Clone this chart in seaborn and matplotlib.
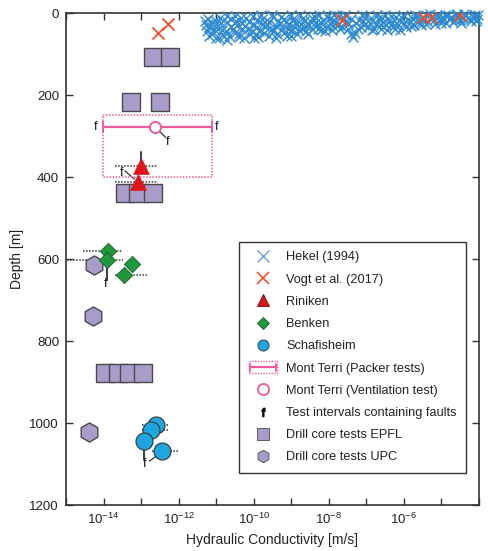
import numpy as np
import pandas as pd
import matplotlib
matplotlib.use("Agg")
import matplotlib.pyplot as plt
import seaborn as sns
from matplotlib.lines import Line2D
from matplotlib.patches import Rectangle
from matplotlib.legend_handler import HandlerBase
from matplotlib.ticker import FixedLocator, FuncFormatter, NullLocator

# ---------------- data (log10 K in m/s, depth in m) ----------------
hekel_logk = [-11.3, -11.2, -11.1, -11.0, -11.0, -10.9, -10.85, -10.8, -10.7, -10.7,
              -10.6, -10.5, -10.5, -10.4, -10.3, -10.3, -10.2, -10.1, -10.0, -10.0,
              -9.9, -9.85, -9.8, -9.7, -9.6, -9.6, -9.5, -9.45, -9.4, -9.3,
              -9.2, -9.2, -9.1, -9.0, -9.0, -8.9, -8.8, -8.7, -8.6, -8.55,
              -8.5, -8.4, -8.3, -8.2, -8.1, -8.0, -7.9, -7.85, -7.8, -7.7,
              -7.6, -7.5, -7.4, -7.35, -7.3, -7.2, -7.15, -7.0, -6.9, -6.8,
              -6.7, -6.6, -6.5, -6.45, -6.4, -6.3, -6.2, -6.1, -6.0, -5.9,
              -5.8, -5.7, -5.6, -5.5, -5.4, -5.3, -5.2, -5.1, -5.0, -4.9,
              -4.8, -4.7, -4.6, -4.5, -4.4, -4.3, -4.2, -4.1, -4.05,
              -11.25, -11.15, -10.95, -10.6, -10.45, -10.15, -9.95, -9.75, -9.35, -9.05,
              -8.75, -8.35, -7.95, -7.55, -7.05, -6.55, -6.05, -5.55, -5.05, -4.55,
              -11.28, -11.22, -11.18, -11.05, -11.02, -10.92, -10.88, -10.75, -10.72, -10.65,
              -10.55, -10.48, -10.38, -10.35, -10.25, -10.22, -10.12, -10.05, -10.02,
              -9.92, -9.88, -9.78, -9.72, -9.65, -9.55, -9.52, -9.42, -9.38, -9.28,
              -9.25, -9.15, -9.12, -9.02, -8.95, -8.92, -8.85, -8.78, -8.72, -8.65,
              -8.62, -8.52, -8.45, -8.42, -8.32, -8.25, -8.22, -8.15, -8.05, -8.02,
              -7.92, -7.88, -7.75, -7.72, -7.65, -7.58, -7.48, -7.42, -7.28, -7.22,
              -7.12, -7.08, -6.95, -6.88, -6.85, -6.75, -6.72, -6.62, -6.58, -6.48,
              -6.35, -6.32, -6.25, -6.15, -6.12, -6.02, -5.95, -5.85, -5.78, -5.72,
              -5.65, -5.58, -5.48, -5.42, -5.35, -5.25, -5.18, -5.12, -5.02, -4.95,
              -4.88, -4.82, -4.75, -4.65, -4.58, -4.48, -4.42, -4.35, -4.25, -4.15,
              -4.08, -4.02]
hekel_depth = [20, 35, 50, 28, 60, 12, 42, 55, 22, 65,
               35, 8, 48, 58, 25, 40, 12, 52, 30, 62,
               18, 45, 5, 35, 55, 22, 10, 42, 60, 28,
               15, 48, 38, 5, 55, 25, 42, 12, 32, 50,
               20, 8, 38, 25, 45, 15, 32, 5, 22, 40,
               12, 28, 50, 58, 48, 18, 35, 8, 25, 40,
               15, 30, 5, 42, 20, 35, 10, 42, 25, 15,
               32, 5, 20, 12, 28, 3, 18, 10, 25, 5,
               15, 22, 8, 18, 3, 12, 20, 6, 14,
               45, 25, 38, 15, 30, 38, 50, 28, 20, 30,
               28, 22, 28, 20, 30, 22, 12, 30, 15, 10,
               30, 15, 55, 40, 18, 62, 25, 45, 8, 55,
               40, 20, 50, 12, 60, 32, 22, 45, 8,
               35, 58, 15, 48, 30, 42, 5, 32, 50, 10,
               40, 22, 55, 42, 15, 35, 52, 5, 40, 20,
               45, 30, 40, 14, 30, 5, 42, 18, 35, 8,
               42, 18, 30, 8, 35, 5, 38, 15, 25, 38,
               5, 20, 35, 12, 42, 28, 5, 40, 12, 30,
               8, 25, 40, 30, 18, 5, 35, 22, 12, 30,
               8, 25, 18, 5, 22, 12, 28, 5, 18, 12,
               25, 5, 12, 18, 3, 25, 12, 6, 15, 10,
               20, 5]

vogt_logk = [-12.55, -12.29, -7.66, -5.5, -5.27, -4.5]
vogt_depth = [49, 27, 17, 10, 10, 5]

riniken_logk = [-13.0, -13.08]
riniken_depth = [373, 412]
riniken_kmin = [-13.7, -13.7]
riniken_kmax = [-12.55, -12.55]

benken_logk = [-13.88, -13.91, -13.24, -13.46]
benken_depth = [580, 603, 612, 639]
benken_kmin = [-14.55, -14.97, np.nan, -13.70]
benken_kmax = [-13.51, -13.48, np.nan, -12.85]

schaf_logk = [-12.61, -12.74, -12.93, -12.45]
schaf_depth = [1005, 1017, 1044, 1068]
schaf_kmin = [-12.98, -12.98, np.nan, -12.71]
schaf_kmax = [-12.29, -12.29, np.nan, -12.02]

packer_kmin, packer_kmax = -14.02, -11.12
packer_depth = 278
packer_top, packer_bottom = 249, 400
vent_logk, vent_depth = -12.63, 278

epfl_logk = [-12.69, -12.23, -13.27, -12.5, -13.43, -13.09, -12.69,
             -13.96, -13.62, -13.32, -12.95]
epfl_depth = [107, 107, 217, 217, 439, 439, 439, 878, 878, 878, 878]

upc_logk = [-14.26, -14.28, -14.39]
upc_depth = [615, 739, 1022]

# fault labels "f"
fault_logk = [-14.2, -10.98, -12.29, -13.52, -13.94, -12.9]
fault_depth = [278, 278, 314, 390, 660, 1100]
# vertical interval bars (logk, top, bottom)
vbar_logk = [-13.0, -13.91, -12.93]
vbar_top = [339, 603, 1044]
vbar_bottom = [373, 650, 1088]
# leader lines (from logk, depth) -> (to logk, depth)
lead_from_k = [-12.55, -13.43, -12.47]
lead_from_d = [285, 385, 1072]
lead_to_k = [-12.35, -13.18, -12.78]
lead_to_d = [303, 405, 1093]

x_ticks_exp = list(range(-15, -3))
x_label_exp = [-14, -12, -10, -8, -6]
y_ticks = [0, 200, 400, 600, 800, 1000, 1200]

# ---------------- colours ----------------
c_hekel = "#2f8ad0"
c_hekel_leg = "#6e9fd8"
c_vogt = "#ee4f2c"
c_rin = "#e0141c"
c_ben = "#1f9a3b"
c_sch = "#1fa6e0"
c_mt = "#ec5b9c"
c_pur = "#a99bca"
c_edge = "#4a4a4a"

sns.set_theme(style="ticks")
plt.rcParams["font.family"] = ["Liberation Sans", "DejaVu Sans"]
plt.rcParams["mathtext.default"] = "regular"

fig = plt.figure(figsize=(4.89, 5.51), dpi=100)
ax = fig.add_axes([66 / 489, 1 - 505 / 551, 413 / 489, 492 / 551])
ax.set_xscale("log")

def K(a):
    return 10.0 ** np.asarray(a, dtype=float)

# dotted horizontal ranges
dot = dict(color="#333333", lw=1.1, ls=(0, (1, 1)), zorder=2)
for lk, d, a, b in zip(riniken_logk, riniken_depth, riniken_kmin, riniken_kmax):
    ax.plot(K([a, b]), [d, d], **dot)
for lk, d, a, b in zip(benken_logk, benken_depth, benken_kmin, benken_kmax):
    if not np.isnan(a):
        ax.plot(K([a, b]), [d, d], **dot)
for lk, d, a, b in zip(schaf_logk, schaf_depth, schaf_kmin, schaf_kmax):
    if not np.isnan(a):
        ax.plot(K([a, b]), [d, d], **dot)

# vertical interval bars
for k, t, b in zip(vbar_logk, vbar_top, vbar_bottom):
    ax.plot(K([k, k]), [t, b], color="#444444", lw=1.5, zorder=2)
# leader lines
for fk, fd, tk, td in zip(lead_from_k, lead_from_d, lead_to_k, lead_to_d):
    ax.plot(K([fk, tk]), [fd, td], color="#444444", lw=1.0, zorder=2)

# Mont Terri packer test
ax.add_patch(Rectangle((K(packer_kmin), packer_top), K(packer_kmax) - K(packer_kmin),
                       packer_bottom - packer_top, fill=False, ec=c_mt, lw=1.1,
                       ls=(0, (1, 1)), zorder=2))
ax.errorbar([K(vent_logk)], [packer_depth],
            xerr=[[K(vent_logk) - K(packer_kmin)], [K(packer_kmax) - K(vent_logk)]],
            fmt="none", ecolor=c_mt, elinewidth=1.6, capsize=4, capthick=1.4, zorder=2)

# scatter layers
df_h = pd.DataFrame({"K": K(hekel_logk), "depth": hekel_depth})
sns.scatterplot(data=df_h, x="K", y="depth", marker="x", color=c_hekel, s=50,
                linewidth=1.0, ax=ax, zorder=3, clip_on=False, legend=False)
df_v = pd.DataFrame({"K": K(vogt_logk), "depth": vogt_depth})
sns.scatterplot(data=df_v, x="K", y="depth", marker="x", color=c_vogt, s=75,
                linewidth=1.3, ax=ax, zorder=4, legend=False)
df_e = pd.DataFrame({"K": K(epfl_logk), "depth": epfl_depth})
sns.scatterplot(data=df_e, x="K", y="depth", marker="s", color=c_pur, s=150,
                edgecolor=c_edge, linewidth=1.0, ax=ax, zorder=3, legend=False)
df_u = pd.DataFrame({"K": K(upc_logk), "depth": upc_depth})
sns.scatterplot(data=df_u, x="K", y="depth", marker="h", color=c_pur, s=190,
                edgecolor=c_edge, linewidth=1.0, ax=ax, zorder=3, legend=False)
df_r = pd.DataFrame({"K": K(riniken_logk), "depth": riniken_depth})
sns.scatterplot(data=df_r, x="K", y="depth", marker="^", color=c_rin, s=130,
                edgecolor=c_rin, linewidth=0.5, ax=ax, zorder=4, legend=False)
df_b = pd.DataFrame({"K": K(benken_logk), "depth": benken_depth})
sns.scatterplot(data=df_b, x="K", y="depth", marker="D", color=c_ben, s=70,
                edgecolor="#1a5a2a", linewidth=0.6, ax=ax, zorder=4, legend=False)
df_s = pd.DataFrame({"K": K(schaf_logk), "depth": schaf_depth})
sns.scatterplot(data=df_s, x="K", y="depth", marker="o", color=c_sch, s=150,
                edgecolor="#333333", linewidth=0.8, ax=ax, zorder=4, legend=False)
ax.plot([K(vent_logk)], [vent_depth], marker="o", ms=8, mfc="white", mec=c_mt,
        mew=1.4, ls="none", zorder=5)

for k, d in zip(fault_logk, fault_depth):
    ax.text(K(k), d, "f", ha="center", va="center", fontsize=9, color="#111111", zorder=6)

# axes
ax.set_xlim(1e-15, 1e-4)
ax.set_ylim(1200, 0)
ax.xaxis.set_major_locator(FixedLocator(K(x_ticks_exp)))
ax.xaxis.set_minor_locator(NullLocator())
ax.xaxis.set_major_formatter(FuncFormatter(
    lambda v, p: (r"$10^{%d}$" % round(np.log10(v))) if round(np.log10(v)) in x_label_exp else ""))
ax.set_yticks(y_ticks)
ax.tick_params(axis="both", direction="in", length=5, width=1.0, top=True, right=True,
               labelsize=9.5, colors="#333333", labelcolor="#222222", pad=5)
for s in ax.spines.values():
    s.set_color("#333333")
    s.set_linewidth(1.2)
ax.set_xlabel("Hydraulic Conductivity [m/s]", fontsize=10, color="#222222", labelpad=4)
ax.set_ylabel("Depth [m]", fontsize=10, color="#222222", labelpad=4)

# legend
class PackerProxy:
    pass

class PackerHandler(HandlerBase):
    def create_artists(self, legend, orig_handle, xdescent, ydescent, width, height,
                       fontsize, trans):
        x0, y0 = -xdescent, -ydescent - 1
        h = height + 2
        rect = Rectangle((x0, y0), width, h, fill=False, ec=c_mt, lw=1.0,
                         ls=(0, (1, 1)), transform=trans)
        ym = y0 + h / 2
        ln = Line2D([x0 + 1, x0 + width - 1], [ym, ym], color=c_mt, lw=1.5, transform=trans)
        c1 = Line2D([x0 + 1, x0 + 1], [ym - h * 0.3, ym + h * 0.3], color=c_mt, lw=1.3,
                    transform=trans)
        c2 = Line2D([x0 + width - 1, x0 + width - 1], [ym - h * 0.3, ym + h * 0.3],
                    color=c_mt, lw=1.3, transform=trans)
        return [rect, ln, c1, c2]

handles = [
    Line2D([], [], marker="x", ls="none", color=c_hekel_leg, ms=8, mew=1.0),
    Line2D([], [], marker="x", ls="none", color=c_vogt, ms=8, mew=1.2),
    Line2D([], [], marker="^", ls="none", color=c_rin, mec="#5a1010", ms=8, mew=0.6),
    Line2D([], [], marker="D", ls="none", color=c_ben, mec="#1a5a2a", ms=6, mew=0.6),
    Line2D([], [], marker="o", ls="none", color=c_sch, mec="#333333", ms=8, mew=0.6),
    PackerProxy(),
    Line2D([], [], marker="o", ls="none", mfc="white", mec=c_mt, ms=8, mew=1.3),
    Line2D([], [], marker=r"$f$", ls="none", color="#111111", ms=6),
    Line2D([], [], marker="s", ls="none", color=c_pur, mec=c_edge, ms=8, mew=0.6),
    Line2D([], [], marker="h", ls="none", color=c_pur, mec=c_edge, ms=9, mew=0.6),
]
labels = ["Hekel (1994)", "Vogt et al. (2017)", "Riniken", "Benken", "Schafisheim",
          "Mont Terri (Packer tests)", "Mont Terri (Ventilation test)",
          "Test intervals containing faults", "Drill core tests EPFL", "Drill core tests UPC"]
leg = ax.legend(handles, labels, handler_map={PackerProxy: PackerHandler()},
                loc="lower right", bbox_to_anchor=(0.9685, 0.065), fontsize=9.2,
                frameon=True, fancybox=False, edgecolor="#333333", framealpha=1,
                labelspacing=0.8, handlelength=2.2, handletextpad=0.7, borderpad=0.75,
                borderaxespad=0)
leg.get_frame().set_linewidth(1.0)
for t in leg.get_texts():
    t.set_color("#222222")

fig.savefig("out.png", dpi=100)
